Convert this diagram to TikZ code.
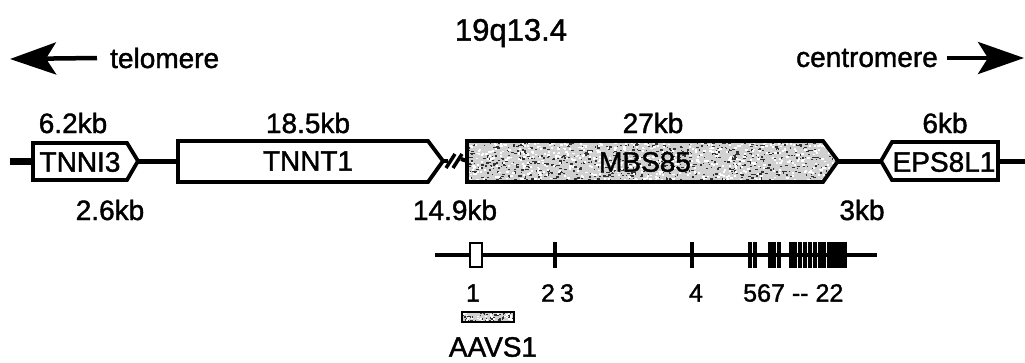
\documentclass[tikz,border=0pt]{standalone}
\usepackage{fontspec}
\setmainfont{Liberation Sans}[FakeBold=1.4]
\usetikzlibrary{arrows.meta}
\begin{document}
\begin{tikzpicture}[x=1pt,y=-1pt,
  genebox/.style={draw=black,line width=3.8pt,line join=miter},
  backbone/.style={line width=5pt},
  lbl/.style={font=\fontsize{28}{31}\selectfont,inner sep=0pt},
  exlbl/.style={font=\fontsize{25}{28}\selectfont,inner sep=0pt},
  exonbar/.style={fill=black,draw=none},
  bigarrow/.style={line width=4.5pt,-{Stealth[length=46pt,width=32pt,inset=10pt]}}]
\useasboundingbox (0,0) rectangle (1025,362);
% title and orientation
\node[lbl,font=\fontsize{31}{34}\selectfont] (title) at (511,33) {19q13.4};
\node[lbl,anchor=west] (telo) at (110,58) {telomere};
\node[lbl,anchor=east] (centro) at (938,58) {centromere};
\coordinate (ltip) at (10,59);
\coordinate (rtip) at (1024,58);
\draw[bigarrow] ([xshift=-13pt]telo.west) -- (ltip);
\draw[bigarrow] ([xshift=9pt]centro.east) -- (rtip);
% coordinates of genes
\coordinate (lend) at (10,161);
\coordinate (rend) at (1025,161);
\coordinate (i3r) at (138,161);
\coordinate (t1l) at (178,161);
\coordinate (t1r) at (443,161);
\coordinate (mbl) at (467,161);
\coordinate (mbr) at (838,161);
\coordinate (epl) at (881,161);
\coordinate (epr) at (998,161);
% backbone
\draw[backbone,line width=7pt] (lend) -- (33,161);
\draw[backbone] (i3r) -- (t1l);
\draw[backbone] (mbr) -- (epl);
\draw[backbone] (epr) -- (rend);
\draw[line width=4pt] (t1r) -- (448,161);
\draw[line width=4pt] (461,159) -- (mbl);
\draw[line width=3.5pt] (446,168) -- (455,154);
\draw[line width=3.5pt] (453,168) -- (462,154);
% TNNI3
\draw[genebox,fill=white] (33,143) -- (127,143) -- (i3r) -- (127,180) -- (33,180) -- cycle;
\node[lbl] (tnni3) at (80,162) {TNNI3};
% TNNT1
\draw[genebox,fill=white] (t1l|-0,141) -- (428,141) -- (t1r) -- (428,182) -- (t1l|-0,182) -- cycle;
\node[lbl] (tnnt1) at (308,161) {TNNT1};
% MBS85 with speckled fill
\begin{scope}
  \clip (467,141) -- (823,141) -- (mbr) -- (823,182) -- (467,182) -- cycle;
  \fill[black!18] (460,135) rectangle (845,190);
  \pgfmathsetseed{7}
  \foreach \i in {1,...,800}{
    \pgfmathsetmacro{\rx}{467+rnd*370}
    \pgfmathsetmacro{\ry}{142+rnd*40}
    \pgfmathsetmacro{\rw}{0.8+rnd*2.4}
    \fill[black!80] (\rx,\ry) rectangle +(\rw,1.3);
  }
  \foreach \i in {1,...,600}{
    \pgfmathsetmacro{\rx}{467+rnd*370}
    \pgfmathsetmacro{\ry}{142+rnd*40}
    \fill[white] (\rx,\ry) rectangle +(2.2,1.8);
  }
\end{scope}
\draw[genebox] (mbl|-0,141) -- (823,141) -- (mbr) -- (823,182) -- (mbl|-0,182) -- cycle;
\node[lbl] (mbs85) at (645,162) {MBS85};
% EPS8L1
\draw[genebox,fill=white] (892,142) -- (epr|-0,142) -- (epr|-0,180) -- (892,180) -- (epl) -- cycle;
\node[lbl] (eps8l1) at (944,162) {EPS8L1};
% size labels
\node[lbl] (s62) at (73,123) {6.2kb};
\node[lbl] (s185) at (308,123) {18.5kb};
\node[lbl] (s27) at (653,123) {27kb};
\node[lbl] (s6) at (945,123) {6kb};
\node[lbl] (s26) at (110,210) {2.6kb};
\node[lbl] (s149) at (455,210) {14.9kb};
\node[lbl] (s3) at (862,210) {3kb};
% exon structure
\coordinate (xl) at (435,255);
\coordinate (xr) at (877,255);
\draw[line width=4pt] (xl) -- (xr);
\draw[line width=2.5pt,fill=white] (470,243) rectangle (482,267);
\foreach \x in {555,692,750,755,770,774,779,791,795,800,805,810,815,820,824,829,833,837,841,845}
  \fill[exonbar] (\x-2,242) rectangle (\x+2,268);
\node[exlbl] (e1) at (473,293) {1};
\node[exlbl] (e2) at (548,293) {2};
\node[exlbl] (e3) at (567,293) {3};
\node[exlbl] (e4) at (696,293) {4};
\node[exlbl,anchor=west] (e5) at (743,293) {567\kern7pt-{}-\kern7pt22};
% AAVS1
\begin{scope}
  \clip (462,312) rectangle (514,322);
  \fill[black!18] (462,312) rectangle (514,322);
  \pgfmathsetseed{3}
  \foreach \i in {1,...,80}{
    \pgfmathsetmacro{\rx}{462+rnd*52}
    \pgfmathsetmacro{\ry}{312+rnd*10}
    \fill[black!80] (\rx,\ry) rectangle +(1.6,1.3);
  }
  \foreach \i in {1,...,40}{
    \pgfmathsetmacro{\rx}{462+rnd*52}
    \pgfmathsetmacro{\ry}{312+rnd*10}
    \fill[white] (\rx,\ry) rectangle +(2,1.5);
  }
\end{scope}
\draw[line width=2.2pt] (462,312) rectangle (514,322);
\node[lbl] (aavs1) at (493,347) {AAVS1};
\end{tikzpicture}
\end{document}
